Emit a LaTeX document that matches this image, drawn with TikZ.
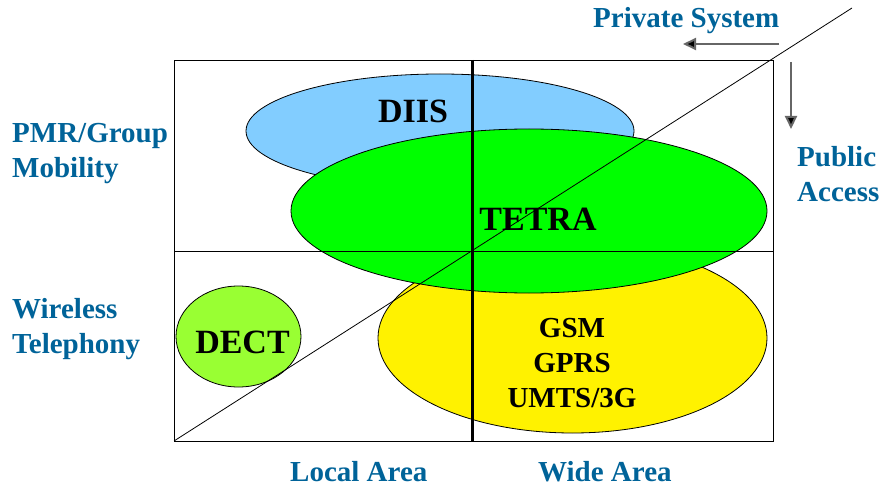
\documentclass[tikz,border=0pt]{standalone}
\usepackage{fontspec}
\setmainfont{Liberation Serif}
\usetikzlibrary{arrows.meta}
\definecolor{lblue}{RGB}{0,99,153}
\definecolor{skyb}{RGB}{130,205,255}
\definecolor{dectg}{RGB}{153,255,51}
\tikzset{
  lab/.style={anchor=base west, inner sep=0pt, text=lblue, font=\bfseries\fontsize{29}{35}\selectfont, align=left},
  big/.style={inner sep=0pt, font=\bfseries\fontsize{34}{40}\selectfont},
  ell/.style={draw=black, line width=0.8pt},
  thin/.style={line width=0.8pt},
  garrow/.style={draw=black!60, line width=2pt, -{Triangle[length=13pt,width=12pt,fill=black]}}
}
\begin{document}
\begin{tikzpicture}[x=1pt,y=-1pt]
\useasboundingbox (0,0) rectangle (882,486);
% coordinates
\coordinate (tl) at (174,60);
\coordinate (tr) at (773,60);
\coordinate (ml) at (174,251);
\coordinate (mr) at (773,251);
\coordinate (bl) at (174,441);
\coordinate (br) at (773,441);
\coordinate (vt) at (472,60);
\coordinate (vb) at (472,441);
\coordinate (dend) at (852,8);
\coordinate (ha) at (779,44);
\coordinate (hb) at (683,44);
\coordinate (va) at (791,62);
\coordinate (vb2) at (791,129);
% rectangles
\draw[thin] (tl) rectangle (mr);
\draw[thin] (ml) rectangle (br);
% ellipses
\draw[ell, fill=skyb] (440,131) ellipse [x radius=194, y radius=57];
\draw[ell, fill=yellow] (572.5,338) ellipse [x radius=194.5, y radius=95];
\draw[ell, fill=green] (529,211) ellipse [x radius=238, y radius=82];
\draw[ell, fill=dectg] (238.5,336.5) ellipse [x radius=62.5, y radius=50.5];
% lines on top
\draw[thin] (ml) -- (mr);
\draw[thin] (bl) -- (dend);
\draw[line width=3pt] (vt) -- (vb);
% arrows
\draw[garrow] (ha) -- (hb);
\draw[garrow] (va) -- (vb2);
% texts
\node[big, anchor=base] (diis) at (413,123) {DIIS};
\node[big, anchor=base] (tetra) at (538,230) {TETRA};
\node[big, anchor=base] (dect) at (242.5,353) {DECT};
\node[inner sep=0pt, anchor=base, align=center, font=\bfseries\fontsize{29}{35}\selectfont] (gsm) at (572,407) {GSM\\GPRS\\UMTS/3G};
\node[lab] (priv) at (593,28) {Private System};
\node[lab] (pmr) at (12,178) {PMR/Group\\Mobility};
\node[lab] (wire) at (12,353) {Wireless\\Telephony};
\node[lab] (pub) at (797,202) {Public\\Access};
\node[lab] (local) at (290,481) {Local Area};
\node[lab] (wide) at (538,481) {Wide Area};
\end{tikzpicture}
\end{document}
